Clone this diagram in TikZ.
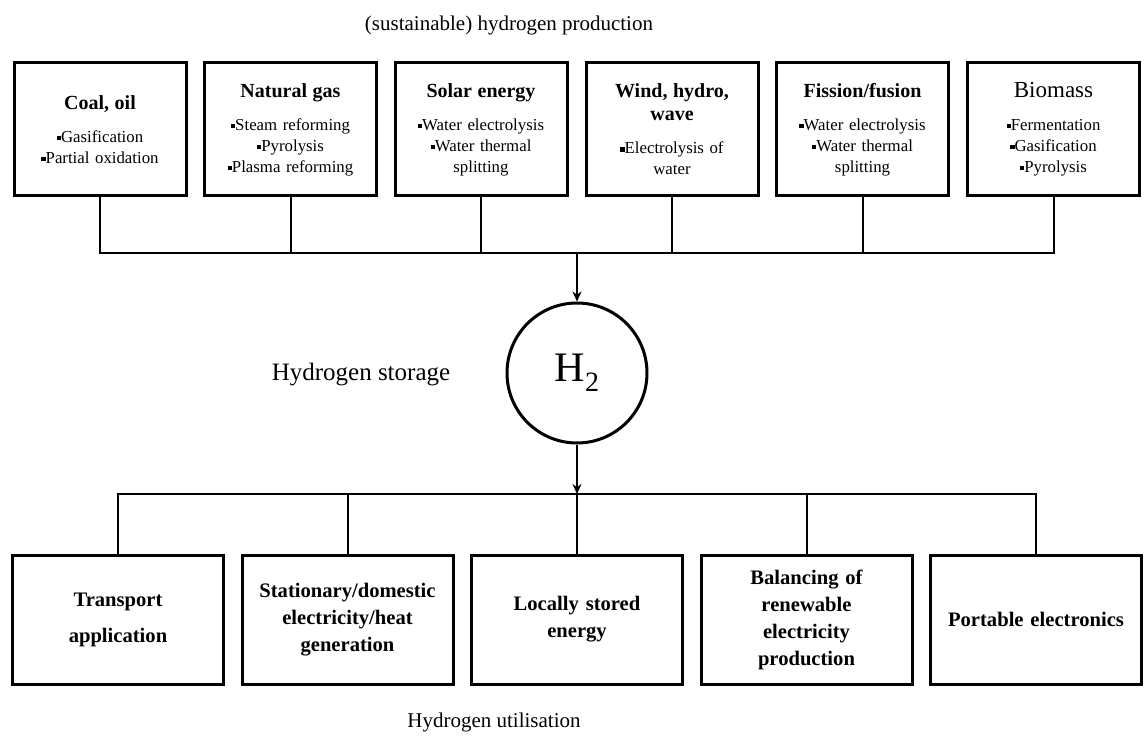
\documentclass[tikz,border=0pt]{standalone}
\usepackage{fontspec}
\setmainfont{Liberation Serif}
\usepackage{tikz}
\usetikzlibrary{arrows.meta}

\newcommand{\sqbul}{\rule[0.3ex]{0.55ex}{0.55ex}}
\newcommand{\srchead}[1]{{\fontsize{10}{11.5}\selectfont\bfseries #1}}

\begin{document}
\begin{tikzpicture}[
    x=0.5pt, y=-0.5pt,
    every node/.style={align=center},
    srcbox/.style={rectangle, draw, line width=1.5pt, minimum width=86pt, minimum height=66.5pt, text width=82pt, inner sep=0pt, font=\fontsize{8.4}{10.5}\selectfont},
    endbox/.style={rectangle, draw, line width=1.5pt, minimum width=105.5pt, minimum height=64.5pt, text width=100pt, inner sep=0pt, font=\fontsize{10.3}{13.5}\selectfont\bfseries},
    hub/.style={circle, draw, line width=1.5pt, minimum size=70pt, inner sep=0pt, font=\fontsize{21}{24}\selectfont},
    captext/.style={font=\fontsize{10.5}{12}\selectfont},
    link/.style={line width=1pt},
    tip/.style={-{Stealth[length=5pt, width=4.5pt]}},
]
\useasboundingbox (0,0) rectangle (1148,738);

% Titles
\node[captext] (prodtitle) at (509,25) {(sustainable) hydrogen production};
\node[captext, font=\fontsize{12.5}{14}\selectfont] (storetitle) at (361,375) {Hydrogen storage};
\node[captext] (usetitle) at (494,722) {Hydrogen utilisation};

% Row 1 (production routes)
\node[srcbox] (coal) at (100,129.5)
  {\srchead{Coal, oil}\\[6pt]
   \sqbul Gasification\\
   \sqbul Partial oxidation};
\node[srcbox] (gas) at (290.5,129.5)
  {\srchead{Natural gas}\\[6pt]
   \sqbul Steam reforming\\
   \sqbul Pyrolysis\\
   \sqbul Plasma reforming};
\node[srcbox] (solar) at (481,129.5)
  {\srchead{Solar energy}\\[6pt]
   \sqbul Water electrolysis\\
   \sqbul Water thermal\\
   splitting};
\node[srcbox] (wind) at (672,129.5)
  {\srchead{Wind, hydro,}\\[1pt]
   \srchead{wave}\\[6pt]
   \sqbul Electrolysis of\\
   water};
\node[srcbox] (nuclear) at (862.5,129.5)
  {\srchead{Fission/fusion}\\[6pt]
   \sqbul Water electrolysis\\
   \sqbul Water thermal\\
   splitting};
\node[srcbox] (biomass) at (1053.5,129.5)
  {{\fontsize{11.5}{11.5}\selectfont Biomass}\\[6pt]
   \sqbul Fermentation\\
   \sqbul Gasification\\
   \sqbul Pyrolysis};

% Hub
\coordinate (topbus) at (577,253);
\coordinate (botbus) at (577,494);
\node[hub] (h2) at (577,373) {H\raisebox{-5pt}{\fontsize{14}{14}\selectfont 2}};

% Row 2 (end uses)
\node[endbox] (transport) at (118,619.5) {Transport\\[4.5pt] application};
\node[endbox] (domestic) at (347.5,619.5) {Stationary/domestic\\ electricity/heat\\ generation};
\node[endbox] (local) at (577,619.5) {Locally stored\\ energy};
\node[endbox] (balance) at (806.5,619.5) {Balancing of\\ renewable\\ electricity\\ production};
\node[endbox] (portable) at (1036,619.5) {Portable electronics};

% Collector lines
\foreach \src in {coal, gas, solar, wind, nuclear, biomass}
  \draw[link] (\src.south) |- (topbus);
\draw[link, tip] (topbus) -- (h2.north);
\draw[link, tip] (h2.south) -- (botbus);
\foreach \dst in {transport, domestic, local, balance, portable}
  \draw[link] (botbus) -| (\dst.north);
\end{tikzpicture}
\end{document}
